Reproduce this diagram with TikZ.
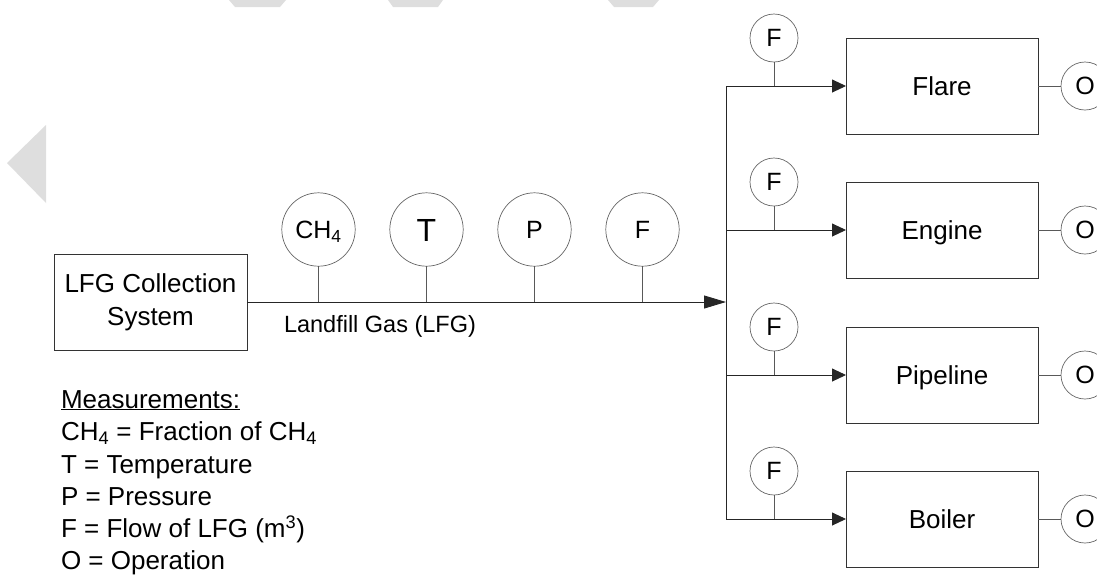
\documentclass[tikz,border=0pt]{standalone}
\usepackage{fontspec}
\setmainfont{Liberation Sans}
\usetikzlibrary{arrows.meta}

\begin{document}
\begin{tikzpicture}[x=1pt, y=-1pt,
  every node/.style={inner sep=0pt, outer sep=0pt},
  txt/.style={font=\fontsize{26}{31}\selectfont},
  unit/.style={draw=black!80, line width=0.9pt, minimum width=192pt, minimum height=96pt,
    font=\fontsize{26}{31}\selectfont, text height=18.6pt, text depth=0pt},
  gauge/.style={circle, draw=black!60, line width=0.7pt, minimum size=73.4pt,
    font=\fontsize{25}{30}\selectfont, text height=17.9pt, text depth=0pt},
  tag/.style={circle, draw=black!60, line width=0.7pt, minimum size=48pt,
    font=\fontsize{25}{30}\selectfont, text height=17.9pt, text depth=0pt},
  pipe/.style={draw=black!85, line width=0.9pt},
  stem/.style={draw=black!65, line width=0.7pt},
  flow/.style={pipe, -{Triangle[length=14pt, width=13pt]}},
  mainflow/.style={pipe, -{Triangle[length=22pt, width=13pt]}},
  shade/.style={fill=black!13, draw=none}
]
\useasboundingbox (0,0) rectangle (1097,574);
\clip (0,0) rectangle (1097,574);

% light background marks
\fill[shade] (7,163) -- (46,125) -- (46,203) -- cycle;
\fill[shade] (229,0) -- (286,0) -- (280,7) -- (235,7) -- cycle;
\fill[shade] (388,0) -- (443,0) -- (438,7) -- (393,7) -- cycle;
\fill[shade] (608,0) -- (659,0) -- (653,7) -- (614,7) -- cycle;

% source
\node[draw=black!80, line width=0.9pt, minimum width=193pt, minimum height=96pt,
  align=center, font=\fontsize{26}{33}\selectfont] (src) at (150.5,302)
  {LFG Collection\\System};

% distribution bus
\coordinate (busT) at (726,86);
\coordinate (busB) at (726,519);

% main gas line
\draw[mainflow] (src.east) -- (src.east -| busT);
\node[font=\fontsize{23.5}{28}\selectfont, anchor=base west] (gasname) at (284,332) {Landfill Gas (LFG)};

% gauges on the main line
\node[gauge] (gCH) at (318.5,229.5) {CH\textsubscript{4}};
\node[gauge, font=\fontsize{32}{36}\selectfont, text height=23pt] (gT) at (426.5,229.5) {T};
\node[gauge] (gP) at (534.5,229.5) {P};
\node[gauge] (gF) at (642.5,229.5) {F};
\foreach \g in {gCH,gT,gP,gF}
  \draw[stem] (\g.south) -- (\g.south |- src.east);

% bus
\draw[pipe] (busT) -- (busB);

% end uses
\node[unit] (flare) at (942,86) {Flare};
\node[unit] (engine) at (942,230) {Engine};
\node[unit] (pipeline) at (942,375) {Pipeline};
\node[unit] (boiler) at (942,519) {Boiler};

\foreach \u/\yy in {flare/86, engine/230, pipeline/375, boiler/519} {
  \draw[flow] (busT |- \u.west) -- (\u.west);
  \node[tag] (f-\u) at (774,\yy-48) {F};
  \draw[stem] (f-\u.south) -- (f-\u.south |- \u.west);
  \node[tag] (o-\u) at (1085,\yy) {O};
  \draw[stem] (\u.east) -- (o-\u.west);
}

% legend
\node[txt, anchor=base west] (lg0) at (61,408) {\underline{Measurements:}};
\node[txt, anchor=base west] (lg1) at (61,440.5) {CH\textsubscript{4} = Fraction of CH\textsubscript{4}};
\node[txt, anchor=base west] (lg2) at (61,473) {T = Temperature};
\node[txt, anchor=base west] (lg3) at (61,505) {P = Pressure};
\node[txt, anchor=base west] (lg4) at (61,537.5) {F = Flow of LFG (m\textsuperscript{3})};
\node[txt, anchor=base west] (lg5) at (61,569.5) {O = Operation};
\end{tikzpicture}
\end{document}
